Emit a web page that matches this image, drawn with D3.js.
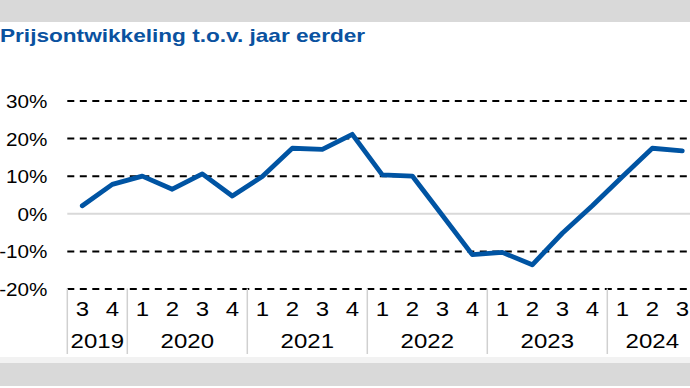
<!DOCTYPE html>
<html>
<head>
<meta charset="utf-8">
<script src="https://cdn.jsdelivr.net/npm/d3@7"></script>
<style>
  html, body { margin: 0; padding: 0; background: #fff; }
  svg { display: block; font-family: "Liberation Sans", Arial, sans-serif; }
</style>
</head>
<body>
<svg id="chart"></svg>
<script>
// quarters shown on the axis, year each belongs to
const quarters = ["3","4","1","2","3","4","1","2","3","4","1","2","3","4","1","2","3","4","1","2","3"]
const years = ["2019","2019","2020","2020","2020","2020","2021","2021","2021","2021",
               "2022","2022","2022","2022","2023","2023","2023","2023","2024","2024","2024"]
const yearLabels = ["2019","2020","2021","2022","2023","2024"]
// price change vs. a year earlier (%)
const values = [2.0, 7.7, 9.9, 6.4, 10.5, 4.6, 9.8, 17.3, 17.0, 21.0,
                10.2, 9.9, -0.5, -11.0, -10.4, -13.7, -5.3, 2.0, 9.7, 17.3, 16.6]
const yTicks = [-20, -10, 0, 10, 20, 30]

const width = 690, height = 388
const plotLeft = 67.3, plotTop = 100.5, plotBottom = 288.5
const qWidth = 30
const stretch = 1.19   // text in the picture is a little wide

const svg = d3.select("#chart").attr("width", width).attr("height", height)

// grey bands top and bottom
svg.append("rect").attr("x", 0).attr("y", 0).attr("width", width).attr("height", 22).attr("fill", "#d9d9d9")
svg.append("rect").attr("x", 0).attr("y", 357).attr("width", width).attr("height", 6).attr("fill", "#f2f2f2")
svg.append("rect").attr("x", 0).attr("y", 363).attr("width", width).attr("height", 23).attr("fill", "#d9d9d9")

svg.append("text")
    .attr("transform", "translate(0,42) scale(" + stretch + ",1)")
    .attr("font-size", 19).attr("font-weight", "bold").attr("fill", "#0a52a0")
    .text("Prijsontwikkeling t.o.v. jaar eerder")

const keys = quarters.map((q, i) => years[i] + "-" + q)
const x = d3.scaleBand().domain(keys).range([plotLeft, plotLeft + qWidth * keys.length])
const y = d3.scaleLinear().domain([-20, 30]).range([plotBottom, plotTop])

// y axis with grid lines
const yAxis = svg.append("g")
    .attr("transform", "translate(" + plotLeft + ",0)")
    .call(d3.axisLeft(y).tickValues(yTicks).tickSize(-(width - plotLeft)).tickFormat(d => d + "%"))
yAxis.select(".domain").remove()
yAxis.selectAll(".tick line")
    .attr("stroke", d => d === 0 ? "#d9d9d9" : "#000")
    .attr("stroke-width", 2)
    .attr("stroke-dasharray", d => d === 0 ? null : "7,5.5")
yAxis.selectAll(".tick text")
    .attr("x", null).attr("dy", null)
    .attr("dominant-baseline", "central")
    .attr("transform", "translate(-19.8,0.5) scale(1.15,1)")
    .attr("font-size", 18).attr("fill", "#000")

// x axis: quarter row
const xAxis = svg.append("g")
    .attr("transform", "translate(0," + plotBottom + ")")
    .call(d3.axisBottom(x).tickSize(0).tickFormat((d, i) => quarters[i]))
xAxis.select(".domain").remove()
xAxis.selectAll(".tick text")
    .attr("y", null).attr("dy", null)
    .attr("dominant-baseline", "central")
    .attr("transform", "translate(0,21) scale(1.2,1)")
    .attr("font-size", 20).attr("fill", "#000")

// year row
const yearGroups = yearLabels.map(yr => {
  const ks = keys.filter((k, i) => years[i] === yr)
  return { year: yr, x0: x(ks[0]), x1: x(ks[ks.length - 1]) + x.bandwidth() }
})
svg.selectAll(".year")
    .data(yearGroups)
    .enter()
    .append("text")
    .attr("transform", d => "translate(" + (d.x0 + d.x1) / 2 + ",341) scale(1.2,1)")
    .attr("text-anchor", "middle").attr("dominant-baseline", "central")
    .attr("font-size", 20).attr("fill", "#000")
    .text(d => d.year)

// separators between years
svg.selectAll(".sep")
    .data(yearGroups)
    .enter()
    .append("line")
    .attr("x1", d => d.x0).attr("x2", d => d.x0)
    .attr("y1", plotBottom).attr("y2", 354)
    .attr("stroke", "#d0d0d0").attr("stroke-width", 1.5)

// the line
const line = d3.line()
    .x((d, i) => x(keys[i]) + x.bandwidth() / 2)
    .y(d => y(d))
svg.append("path")
    .datum(values)
    .attr("d", line)
    .attr("fill", "none")
    .attr("stroke", "#0054a3")
    .attr("stroke-width", 4.8)
    .attr("stroke-linejoin", "round")
    .attr("stroke-linecap", "round")
</script>
</body>
</html>
